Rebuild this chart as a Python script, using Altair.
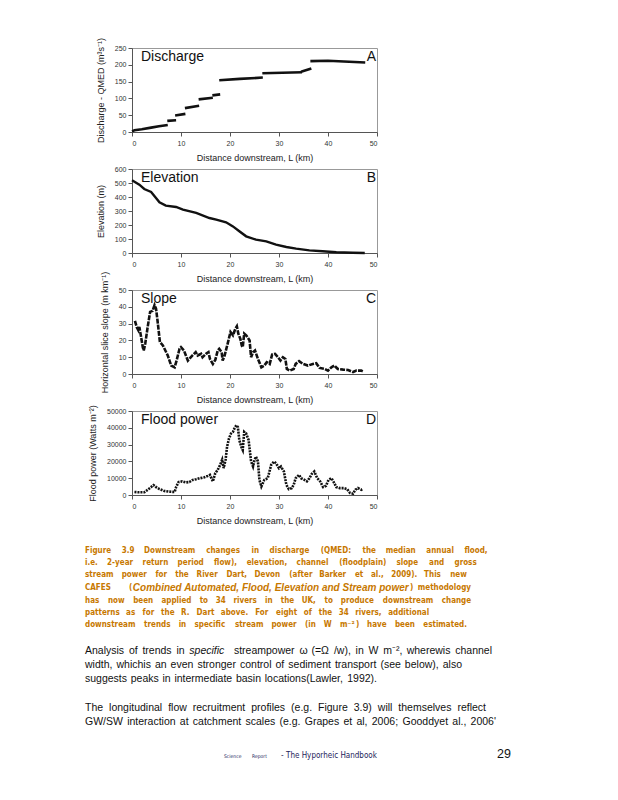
import altair as alt
import pandas as pd

# ---------------- chart data ----------------
X_TICKS = [0, 10, 20, 30, 40, 50]
X_TITLE = "Distance downstream, L (km)"

# Panel A: discharge (QMED) - stepped segments
dis_km = [0, 0.5, 2, 3.9, 5.5, 7.3, 7.2, 9.0, 8.8, 10.9, 10.8, 13.7, 13.6, 16.5,
          16.4, 18.0, 17.8, 22, 26.7, 26.6, 34.7, 34.5, 36.6, 36.4, 40, 47.6]
dis_q = [2, 5, 8, 13, 17, 21, 33, 35, 49, 54, 71, 78, 97, 102,
         109, 112, 154, 158, 162, 175, 178, 179, 189, 211, 212, 207]
dis_seg = [0] * 6 + [1] * 2 + [2] * 2 + [3] * 2 + [4] * 2 + [5] * 2 + [6] * 3 + [7] * 2 + [8] * 2 + [9] * 3

# Panel B: elevation
elev_km = [0, 1.5, 2.5, 3.9, 4.9, 5.6, 6.9, 9, 10.4, 13.1, 15.8, 17.2, 19.2, 20.6, 21.9,
           23.3, 25.3, 27.4, 29.4, 31.5, 33.5, 36.2, 38.9, 41.7, 45, 47.5]
elev_m = [519, 488, 457, 436, 393, 362, 338, 329, 310, 286, 250, 238, 219, 190, 155,
          119, 95, 83, 60, 43, 31, 19, 12, 5, 2, 0]

# Panel C: slope
slope_km = [0.6, 0.95, 1.3, 1.5, 1.8, 2.2, 2.4, 2.7, 3.2, 3.7, 4.2, 4.6, 4.9, 5.2, 5.7, 6.3, 7.3,
            8.0, 8.7, 9.1, 9.7, 10.0, 10.6, 11.0, 11.4, 11.7, 12.3, 13.0, 13.4, 14.1, 14.4, 15.1,
            15.6, 15.9, 16.5, 17.0, 17.5, 17.8, 18.3, 18.5, 18.9, 19.6, 20.1, 20.6, 21.1, 21.4,
            21.7, 22.1, 22.4, 22.6, 22.9, 23.3, 24.0, 24.3, 24.7, 25.1, 25.7, 26.4, 27.0, 27.5,
            28.1, 28.6, 29.2, 29.8, 30.3, 30.8, 31.3, 31.6, 32.2, 33.0, 33.4, 34.1, 34.9, 35.9,
            36.9, 37.6, 38.3, 39.3, 40.0, 40.7, 41.3, 42.0, 43.1, 44.1, 45.1, 45.8, 46.8, 47.1]
slope_v = [31.6, 28, 26, 28, 23, 16, 14, 18, 28, 37, 37.6, 41, 39, 32, 19, 17, 11,
           5, 4, 8, 15, 16, 14, 11, 8, 9, 11, 13, 11, 12, 10, 12,
           13, 9, 6, 8.4, 14, 15, 13, 8, 11, 19, 25, 23, 27, 28.4,
           24, 21, 17, 16, 24, 23, 20, 10, 13, 14, 9, 4, 5, 7,
           6, 11.6, 12, 10, 8, 10, 9, 3, 2, 3, 6, 7.6, 6, 5,
           6, 6.4, 3.6, 3, 2, 4, 5, 3, 2.6, 2.4, 1.2, 2, 2, 1.6]

# Panel D: flood power
pow_km = [0.5, 1.5, 2.5, 3.2, 3.9, 4.4, 4.9, 5.6, 6.6, 7.6, 8.7, 9.0, 9.5, 10.2, 11.0, 11.7,
          12.4, 13.1, 13.9, 14.8, 15.5, 15.9, 16.5, 17.0, 17.5, 18.0, 18.4, 18.7, 19.1, 19.4,
          19.8, 20.2, 20.6, 20.9, 21.3, 21.6, 21.9, 22.3, 22.6, 22.9, 23.3, 23.8, 24.3, 24.7,
          25.0, 25.3, 25.7, 26.0, 26.4, 27.0, 27.7, 28.4, 29.0, 29.4, 30.0, 30.4, 31.0, 31.5,
          32.0, 32.6, 33.0, 33.4, 34.1, 34.5, 35.2, 35.7, 36.2, 36.7, 37.2, 37.8, 38.4, 39.0,
          39.6, 40.1, 40.7, 41.2, 41.7, 42.4, 43.2, 43.9, 44.5, 45.1, 45.6, 46.1, 46.8, 47.1]
pow_w = [1800, 1600, 1600, 3100, 4700, 5900, 4700, 3500, 2400, 2000, 1800, 4700, 7700, 8100, 7500, 7700,
         9000, 9400, 10000, 10600, 11400, 12000, 8100, 13000, 15000, 18000, 21000, 16000, 21000, 28700,
         33700, 36600, 37600, 39600, 41500, 40500, 32700, 28700, 26800, 37600, 36600, 32700, 20000, 17000,
         20900, 22800, 20000, 9000, 5100, 9000, 10000, 17900, 19900, 18900, 15900, 16900, 14000, 6100,
         3500, 4100, 6100, 10000, 12000, 10000, 9000, 8100, 10000, 12600, 14000, 10000, 8100, 4700,
         5500, 9000, 10000, 7500, 4700, 4100, 4100, 3500, 1200, 800, 3100, 4100, 3100, 3500]

# ---------------- page text ----------------
CAP = "#c77800"
NAVY = "#23235a"
SANS = "Liberation Sans, Arial, Helvetica, sans-serif"
NARROW = "Liberation Sans Narrow, DejaVu Sans Condensed, sans-serif"

STYLES = {
    "cap":   dict(font=NARROW, size=8, weight="bold", color=CAP, factor=1.08, bold=True),
    "capbi": dict(font=SANS, size=10, weight="bold", italic=True, color=CAP, bold=True),
    "body":  dict(font=SANS, size=10.5, color="#111"),
    "bodyi": dict(font=SANS, size=10.5, italic=True, color="#111"),
    "foot":  dict(font=NARROW, size=8, color=NAVY, factor=1.03),
    "foots": dict(font=NARROW, size=5, color=NAVY, factor=1.03),
    "page":  dict(font=SANS, size=12.5, color="#111"),
}


def W(txt, style="cap", wt=1.0):
    return [(w, style, wt) for w in txt.split()]


# (row y, left x, right x or None, items)
LINES = [
    (18.5, 86, 489, W("Figure 3.9 Downstream changes in discharge (QMED: the median annual flood,")),
    (30.5, 86, 479, W("i.e. 2-year return period flow), elevation, channel (floodplain) slope and gross")),
    (43.0, 86, 468, W("stream power for the River Dart, Devon (after Barker et al., 2009). This new")),
    (56.0, 86, 473, [("CAFES", "cap", 1), ("(", "cap", 1.5),
                     ("Combined Automated, Flood, Elevation and Stream power", "capbi", 0.1),
                     (")", "cap", 0.1), ("methodology", "cap", 0.5)]),
    (68.5, 86, 473, W("has now been applied to 34 rivers in the UK, to produce downstream change")),
    (80.5, 86, 430, W("patterns as for the R. Dart above. For eight of the 34 rivers, additional")),
    (93.0, 86, 467, W("downstream trends in specific stream power (in W m⁻²") + [(")", "cap", 0.3)]
     + W("have been estimated.")),
    (118.5, 86, 493, W("Analysis of trends in", "body") + [("specific", "bodyi", 1), ("streampower", "body", 2)]
     + W("ω (=Ω /w), in W m⁻², wherewis channel", "body")),
    (132.5, 86, 463, W("width, whichis an even stronger control of sediment transport (see below), also", "body")),
    (146.5, 86, 378, W("suggests peaks in intermediate basin locations(Lawler, 1992).", "body")),
    (175.5, 86, 487, W("The longitudinal flow recruitment profiles (e.g. Figure 3.9) will themselves reflect", "body")),
    (189.5, 86, 497, W("GW/SW interaction at catchment scales (e.g. Grapes et al, 2006; Gooddyet al., 2006'", "body")),
    (224.0, 225, None, [("Science", "foots", 1)]),
    (224.0, 253, None, [("Report", "foots", 1)]),
    (224.0, 282, None, [("-", "foot", 1), ("The Hyporheic Handbook", "foot", 1)]),
    (222.0, 498, None, [("29", "page", 1)]),
]

# Arial-like advance widths (1/1000 em) for estimating word widths
LOW = "abcdefghijklmnopqrstuvwxyz"
UPP = "ABCDEFGHIJKLMNOPQRSTUVWXYZ"
REG = dict(zip(LOW, [556, 556, 500, 556, 556, 278, 556, 556, 222, 222, 500, 222, 833, 556, 556, 556, 556,
                     333, 500, 278, 556, 500, 722, 500, 500, 500]))
REG.update(zip(UPP, [667, 667, 722, 722, 667, 611, 778, 722, 278, 500, 667, 556, 833, 722, 778, 667, 778,
                     722, 667, 611, 722, 667, 944, 667, 667, 611]))
BLD = dict(zip(LOW, [556, 611, 556, 611, 556, 333, 611, 611, 278, 278, 556, 278, 889, 611, 611, 611, 611,
                     389, 556, 333, 611, 556, 778, 556, 556, 500]))
BLD.update(zip(UPP, [722, 722, 722, 722, 667, 611, 778, 722, 278, 556, 722, 611, 833, 722, 778, 667, 778,
                     722, 667, 611, 722, 667, 944, 667, 667, 611]))
PUN = {" ": 278, ".": 278, ",": 278, "(": 333, ")": 333, "-": 333, "/": 278, ":": 300, ";": 300,
       "'": 200, "=": 584, "²": 333, "³": 333, "¹": 333, "⁻": 333, "ω": 690, "Ω": 768}


def text_width(s, style):
    st = STYLES[style]
    tbl = BLD if st.get("bold") else REG
    tot = sum(tbl.get(c, PUN.get(c, 556)) for c in s)
    return tot * st["size"] / 1000.0 * st.get("factor", 1.0)


rows = []
for y, x0, x1, items in LINES:
    widths = [text_width(t, s) for t, s, _ in items]
    wts = [wt for _, _, wt in items]
    if x1 is None or len(items) == 1:
        unit = text_width(" ", items[0][1])
    else:
        unit = (x1 - x0 - sum(widths)) / sum(wts[1:])
    x = x0
    for i, (t, s, wt) in enumerate(items):
        if i > 0:
            x += wt * unit
        rows.append({"t": t, "x": x - 133, "y": y, "style": s})
        x += widths[i]
words = pd.DataFrame(rows)

# ---------------- charts ----------------


def make_panel(km, vals, segs, ytitle, ytop, ystep, label, letter, dash=None, width=2.4):
    df = pd.DataFrame({"km": km, "v": vals, "seg": segs})
    x = alt.X("km:Q", scale=alt.Scale(domain=[0, 50], nice=False, zero=False),
              axis=alt.Axis(values=X_TICKS, title=X_TITLE, labelPadding=3, titlePadding=7))
    y = alt.Y("v:Q", scale=alt.Scale(domain=[0, ytop], nice=False),
              axis=alt.Axis(values=list(range(0, ytop + 1, ystep)), title=ytitle, format="d",
                            titlePadding=9, labelPadding=2))
    mk = dict(color="#111", strokeWidth=width)
    if dash:
        mk["strokeDash"] = dash
    line = alt.Chart(df).mark_line(**mk).encode(x=x, y=y, detail="seg:N")
    lab = alt.Chart(pd.DataFrame({"t": [label]})).mark_text(
        align="left", baseline="middle", font=SANS, fontSize=14, color="#111"
    ).encode(x=alt.value(9), y=alt.value(9), text="t:N")
    let = alt.Chart(pd.DataFrame({"t": [letter]})).mark_text(
        align="right", baseline="middle", font=SANS, fontSize=14, color="#111"
    ).encode(x=alt.value(244), y=alt.value(9), text="t:N")
    return alt.layer(line, lab, let).properties(
        width=245, height=84, view=alt.ViewBackground(stroke="#999", strokeWidth=1))


pA = make_panel(dis_km, dis_q, dis_seg, "Discharge - QMED (m³s⁻¹)", 250, 50, "Discharge", "A", width=2.6)
pB = make_panel(elev_km, elev_m, [0] * len(elev_km), "Elevation (m)", 600, 100, "Elevation", "B")
pC = make_panel(slope_km, slope_v, [0] * len(slope_km), "Horizontal slice slope (m km⁻¹)", 50, 10,
                "Slope", "C", dash=[5, 1.2], width=2.6)
pD = make_panel(pow_km, pow_w, [0] * len(pow_km), "Flood power (Watts m⁻²)", 50000, 10000,
                "Flood power", "D", dash=[2, 1], width=2.6)

layers = []
for key, st in STYLES.items():
    sub = words[words["style"] == key]
    if len(sub) == 0:
        continue
    kw = dict(align="left", baseline="middle", font=st["font"], fontSize=st["size"], color=st["color"])
    if st.get("weight"):
        kw["fontWeight"] = st["weight"]
    if st.get("italic"):
        kw["fontStyle"] = "italic"
    layers.append(alt.Chart(sub).mark_text(**kw).encode(
        x=alt.X("x:Q", scale=None, axis=None),
        y=alt.Y("y:Q", scale=None, axis=None),
        text="t:N"))
textc = alt.layer(*layers).properties(width=245, height=230,
                                      view=alt.ViewBackground(stroke="transparent"))

chart = alt.vconcat(pA, pB, pC, pD, textc, spacing=37, bounds="flush").properties(
    padding={"left": 76, "top": 28, "right": 5, "bottom": 5}
).configure_axis(
    labelFont=SANS, labelFontSize=7, labelColor="#333",
    titleFont=SANS, titleFontSize=9, titleFontWeight="normal", titleColor="#222",
    domainColor="#555", tickColor="#555", tickSize=4, grid=False
).configure_view(stroke="#999")

chart.save("out.html", embed_options={"renderer": "svg", "actions": False})
